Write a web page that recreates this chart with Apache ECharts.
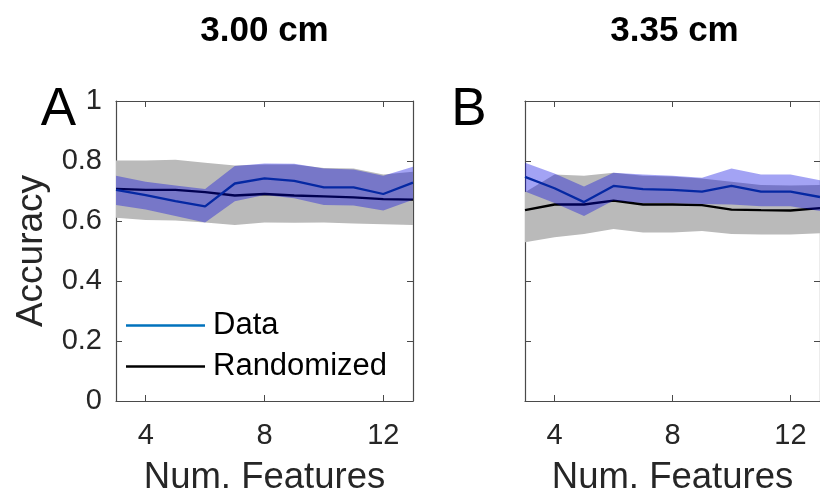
<!DOCTYPE html>
<html>
<head>
<meta charset="utf-8">
<script src="https://cdn.jsdelivr.net/npm/echarts@6/dist/echarts.min.js"></script>
<style>
  html, body { margin: 0; padding: 0; background: #fff; }
  #chart { width: 820px; height: 501px; }
</style>
</head>
<body>
<div id="chart"></div>
<script>
// number of features (x values), same for both panels
var xs = [3, 4, 5, 6, 7, 8, 9, 10, 11, 12, 13];
var xTicks = [4, 8, 12];

// panel A : 3.00 cm
var aData   = [0.704, 0.686, 0.666, 0.649, 0.725, 0.742, 0.734, 0.712, 0.712, 0.690, 0.728];
var aDataHi = [0.751, 0.731, 0.718, 0.707, 0.783, 0.792, 0.791, 0.775, 0.772, 0.751, 0.781];
var aDataLo = [0.653, 0.638, 0.617, 0.595, 0.666, 0.687, 0.676, 0.653, 0.652, 0.635, 0.671];
var aRand   = [0.707, 0.704, 0.704, 0.696, 0.685, 0.690, 0.685, 0.682, 0.679, 0.673, 0.671];
var aRandHi = [0.802, 0.802, 0.804, 0.794, 0.785, 0.788, 0.788, 0.777, 0.775, 0.755, 0.764];
var aRandLo = [0.611, 0.603, 0.602, 0.595, 0.587, 0.595, 0.594, 0.595, 0.592, 0.589, 0.587];

// panel B : 3.35 cm
var bData   = [0.747, 0.709, 0.663, 0.717, 0.706, 0.704, 0.698, 0.717, 0.698, 0.698, 0.680];
var bDataHi = [0.794, 0.758, 0.715, 0.761, 0.755, 0.751, 0.744, 0.775, 0.755, 0.755, 0.736];
var bDataLo = [0.698, 0.660, 0.617, 0.668, 0.660, 0.660, 0.657, 0.655, 0.649, 0.649, 0.633];
var bRand   = [0.636, 0.655, 0.655, 0.668, 0.655, 0.655, 0.653, 0.638, 0.636, 0.635, 0.643];
var bRandHi = [0.696, 0.755, 0.751, 0.761, 0.751, 0.748, 0.742, 0.731, 0.720, 0.718, 0.720];
var bRandLo = [0.529, 0.546, 0.557, 0.573, 0.562, 0.562, 0.567, 0.557, 0.555, 0.555, 0.559];

var titles = ['3.00 cm', '3.35 cm'];
var letters = ['A', 'B'];

var FONT = '"Liberation Sans", Arial, Helvetica, sans-serif';
var AXIS_COLOR = '#4a4a4a';
var TEXT_COLOR = '#262626';
var GRAY_FILL = '#bababa';
var BLUE_FILL = 'rgba(0, 0, 225, 0.36)';
var BLUE_LINE = '#083f80';
var LEGEND_BLUE = '#0072BD';

function pairs(ys) {
    return xs.map(function (x, i) { return [x, ys[i]]; });
}

// shaded band: one polygon, upper edge left->right then lower edge right->left
function band(name, lo, hi, fill, axisIdx, z) {
    return {
        name: name,
        type: 'custom',
        xAxisIndex: axisIdx,
        yAxisIndex: axisIdx,
        z: z,
        silent: true,
        data: xs.map(function (x, i) { return [x, lo[i], hi[i]]; }),
        encode: { x: 0, y: [1, 2] },
        renderItem: function (params, api) {
            if (params.dataIndex !== 0) return;
            var pts = [];
            var i;
            for (i = 0; i < xs.length; i++) pts.push(api.coord([xs[i], hi[i]]));
            for (i = xs.length - 1; i >= 0; i--) pts.push(api.coord([xs[i], lo[i]]));
            return {
                type: 'polygon',
                shape: { points: pts },
                style: { fill: fill, stroke: null },
                clipPath: {
                    type: 'rect',
                    shape: {
                        x: params.coordSys.x, y: params.coordSys.y,
                        width: params.coordSys.width, height: params.coordSys.height
                    }
                }
            };
        }
    };
}

function line(name, ys, color, axisIdx) {
    return {
        name: name,
        type: 'line',
        xAxisIndex: axisIdx,
        yAxisIndex: axisIdx,
        z: 3,
        symbol: 'none',
        silent: true,
        data: pairs(ys),
        lineStyle: { color: color, width: 2.3 },
        itemStyle: { color: color }
    };
}

// gray band under the lines, translucent blue band over them
function panelSeries(data, dataLo, dataHi, rand, randLo, randHi, axisIdx) {
    return [
        band('gray' + axisIdx, randLo, randHi, GRAY_FILL, axisIdx, 2),
        line('Randomized', rand, '#000000', axisIdx),
        line('Data', data, BLUE_LINE, axisIdx),
        band('blue' + axisIdx, dataLo, dataHi, BLUE_FILL, axisIdx, 4)
    ];
}

function xAxisFor(grid, top, showLabel) {
    return {
        type: 'value',
        gridIndex: grid,
        position: top ? 'top' : 'bottom',
        min: 3,
        max: 13,
        name: showLabel ? 'Num. Features' : '',
        nameLocation: 'middle',
        nameGap: 58,
        nameTextStyle: { fontFamily: FONT, fontSize: 36.5, color: TEXT_COLOR },
        axisLine: { show: true, onZero: false, lineStyle: { color: AXIS_COLOR, width: 1.2 } },
        axisTick: { show: true, inside: true, length: 6, customValues: xTicks, lineStyle: { color: AXIS_COLOR } },
        axisLabel: {
            show: showLabel,
            customValues: xTicks,
            margin: 20,
            fontFamily: FONT,
            fontSize: 29,
            color: TEXT_COLOR
        },
        splitLine: { show: false }
    };
}

function yAxisFor(grid, right, showLabel, name) {
    return {
        type: 'value',
        gridIndex: grid,
        position: right ? 'right' : 'left',
        min: 0,
        max: 1,
        interval: 0.2,
        name: name || '',
        nameLocation: 'middle',
        nameGap: 66,
        nameTextStyle: { fontFamily: FONT, fontSize: 37, color: TEXT_COLOR },
        axisLine: { show: true, onZero: false, lineStyle: { color: AXIS_COLOR, width: 1.2 } },
        axisTick: { show: true, inside: true, length: 6, lineStyle: { color: AXIS_COLOR } },
        axisLabel: {
            show: showLabel,
            margin: 14,
            fontFamily: FONT,
            fontSize: 29,
            color: TEXT_COLOR
        },
        splitLine: { show: false }
    };
}

var chart = echarts.init(document.getElementById('chart'));

var option = {
    animation: false,
    backgroundColor: '#ffffff',
    grid: [
        { left: 116, top: 101, width: 297, height: 306 },
        { left: 525, top: 101, width: 298, height: 306 }
    ],
    xAxis: [
        xAxisFor(0, false, true),
        xAxisFor(1, false, true),
        xAxisFor(0, true, false),
        xAxisFor(1, true, false)
    ],
    yAxis: [
        yAxisFor(0, false, true, 'Accuracy'),
        yAxisFor(1, false, false),
        yAxisFor(0, true, false),
        yAxisFor(1, true, false)
    ],
    legend: {
        orient: 'vertical',
        left: 121,
        top: 305,
        itemWidth: 79,
        itemHeight: 2.5,
        itemGap: 10,
        selectedMode: false,
        textStyle: { fontFamily: FONT, fontSize: 31, color: '#000000', padding: [0, 0, 0, 3] },
        data: [
            { name: 'Data', icon: 'rect', itemStyle: { color: LEGEND_BLUE } },
            { name: 'Randomized', icon: 'rect', itemStyle: { color: '#000000' } }
        ]
    },
    graphic: [
        { type: 'text', x: 264.5, y: 31, style: { text: titles[0], font: 'bold 35px ' + FONT, fill: '#000', align: 'center', verticalAlign: 'middle' } },
        { type: 'text', x: 674.5, y: 31, style: { text: titles[1], font: 'bold 35px ' + FONT, fill: '#000', align: 'center', verticalAlign: 'middle' } },
        { type: 'text', x: 58.5, y: 110, style: { text: letters[0], font: '53px ' + FONT, fill: '#000', align: 'center', verticalAlign: 'middle' } },
        { type: 'text', x: 469, y: 110, style: { text: letters[1], font: '53px ' + FONT, fill: '#000', align: 'center', verticalAlign: 'middle' } }
    ],
    series: []
};

option.series = option.series
    .concat(panelSeries(aData, aDataLo, aDataHi, aRand, aRandLo, aRandHi, 0))
    .concat(panelSeries(bData, bDataLo, bDataHi, bRand, bRandLo, bRandHi, 1));

chart.setOption(option);
</script>
</body>
</html>
